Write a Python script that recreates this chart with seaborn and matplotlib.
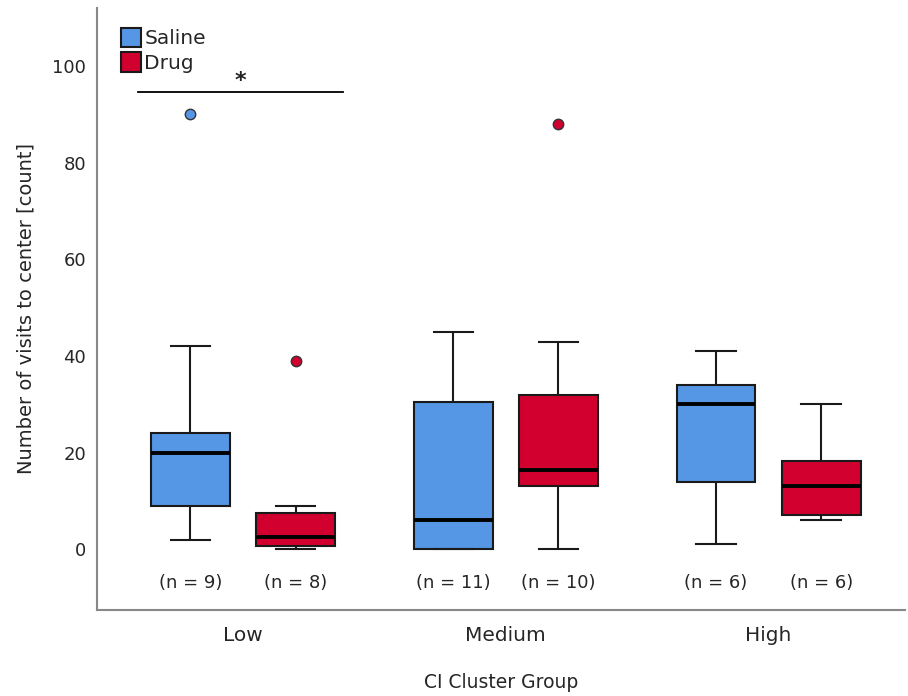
import pandas as pd
import seaborn as sns
import matplotlib.pyplot as plt
from matplotlib.patches import Patch

# raw visit counts per group
groups = ['Low', 'Medium', 'High']
treatments = ['Saline', 'Drug']

low_saline = [2, 5, 9, 15, 20, 22, 24, 42, 90]
low_drug = [0, 0, 1, 2, 3, 7, 9, 39]
medium_saline = [0, 0, 0, 0, 2, 6, 18, 30, 31, 38, 45]
medium_drug = [0, 5, 13, 13, 16, 17, 32, 32, 43, 88]
high_saline = [1, 9, 29, 31, 35, 41]
high_drug = [6, 6, 10, 16, 19, 30]

colors = {'Saline': '#5596E5', 'Drug': '#D2002E'}

values = {
    ('Low', 'Saline'): low_saline, ('Low', 'Drug'): low_drug,
    ('Medium', 'Saline'): medium_saline, ('Medium', 'Drug'): medium_drug,
    ('High', 'Saline'): high_saline, ('High', 'Drug'): high_drug,
}
rows = []
for (g, t), vals in values.items():
    for v in vals:
        rows.append({'group': g, 'treatment': t, 'visits': v})
df = pd.DataFrame(rows)

plt.rcParams['font.family'] = ['DejaVu Sans']
txt = '#262626'

fig = plt.figure(figsize=(9.08, 6.96), dpi=100)
ax = fig.add_axes([0.107, 0.124, 0.89, 0.865])

line_kw = dict(color='#1a1a1a', linewidth=1.5)
sns.boxplot(data=df, x='group', y='visits', hue='treatment',
            order=groups, hue_order=treatments, palette=colors, saturation=1,
            width=0.8, gap=0.25, whis=1.5, ax=ax, legend=False,
            linecolor='#1a1a1a', linewidth=1.5,
            medianprops=dict(color='black', linewidth=2.8),
            whiskerprops=line_kw, capprops=line_kw,
            boxprops=dict(edgecolor='#1a1a1a', linewidth=1.5),
            flierprops=dict(marker='o', markersize=7.5, markeredgecolor='#333333',
                            markeredgewidth=1.0))

# colour the outlier dots by treatment (saline sits left of the group centre)
for ln in ax.lines:
    xd = ln.get_xdata()
    if ln.get_marker() == 'o' and len(xd) > 0:
        off = xd[0] - round(xd[0])
        ln.set_markerfacecolor(colors['Saline'] if off < 0 else colors['Drug'])

ax.set_xlim(-0.555, 2.52)
ax.set_ylim(-12.5, 112.1)
ax.set_yticks([0, 20, 40, 60, 80, 100])

# sample sizes under each box
for gi, g in enumerate(groups):
    for ti, t in enumerate(treatments):
        ax.text(gi + (ti - 0.5) * 0.4, -6.9, f'(n = {len(values[(g, t)])})',
                ha='center', va='center', fontsize=13, color=txt)

# significance bar for the Low group
ax.plot([-0.40, 0.38], [94.7, 94.7], color='black', linewidth=1.3)
ax.text(-0.01, 94.8, '*', ha='center', va='bottom', fontsize=16,
        fontweight='bold', color='#222222')

handles = [Patch(facecolor=colors[t], edgecolor='#1a1a1a', linewidth=1.5, label=t)
           for t in treatments]
ax.legend(handles=handles, loc='upper left', bbox_to_anchor=(0.005, 1.0),
          frameon=False, fontsize=14.5, handlelength=1.0, handleheight=1.1,
          handletextpad=0.15, labelspacing=0.2, borderaxespad=0.6,
          labelcolor=txt)

ax.set_xlabel('CI Cluster Group', fontsize=13.5, color=txt, labelpad=20)
ax.set_ylabel('Number of visits to center [count]', fontsize=14, color=txt, labelpad=12)
ax.tick_params(axis='x', length=0, labelsize=14.5, labelcolor=txt, pad=12)
ax.tick_params(axis='y', length=0, labelsize=13, labelcolor=txt, pad=8)

for s in ['top', 'right']:
    ax.spines[s].set_visible(False)
for s in ['left', 'bottom']:
    ax.spines[s].set_color('#888888')
    ax.spines[s].set_linewidth(1.5)

fig.savefig('out.png', dpi=100)
